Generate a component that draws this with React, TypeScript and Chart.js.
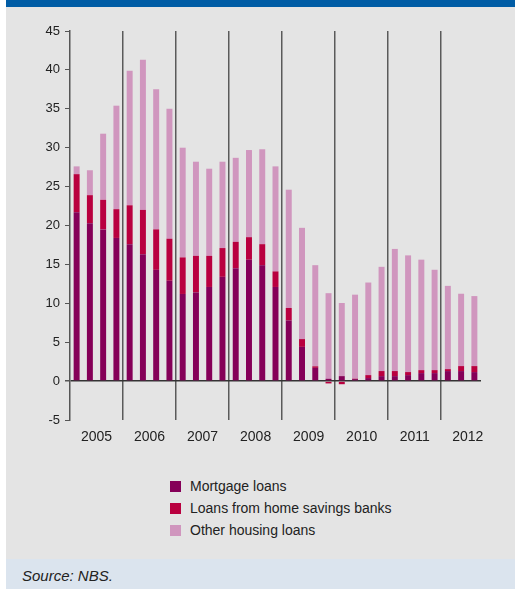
import React, { useEffect, useRef } from "react";
import { Chart, registerables } from "chart.js";

Chart.register(...registerables);

const quarters = [
  "2005Q1","2005Q2","2005Q3","2005Q4",
  "2006Q1","2006Q2","2006Q3","2006Q4",
  "2007Q1","2007Q2","2007Q3","2007Q4",
  "2008Q1","2008Q2","2008Q3","2008Q4",
  "2009Q1","2009Q2","2009Q3","2009Q4",
  "2010Q1","2010Q2","2010Q3","2010Q4",
  "2011Q1","2011Q2","2011Q3","2011Q4",
  "2012Q1","2012Q2","2012Q3",
];

const yearLabels = ["2005","2006","2007","2008","2009","2010","2011","2012"];
const yearLabelPositions = [2, 6, 10, 14, 18, 22, 26, 30];

const mortgageLoans = [
  21.7, 20.3, 19.5, 18.4,
  17.6, 16.3, 14.3, 12.9,
  11.2, 11.4, 12.1, 13.4,
  14.5, 15.6, 14.9, 12.1,
  7.8, 4.4, 1.7, 0.3,
  0.64, 0.26, 0.39, 0.64,
  0.64, 0.77, 1.03, 1.03,
  1.29, 1.29, 1.16,
];

const homeSavingsLoans = [
  4.9, 3.6, 3.8, 3.7,
  5.0, 5.7, 5.2, 5.4,
  4.7, 4.7, 4.0, 3.7,
  3.4, 2.9, 2.7, 2.0,
  1.6, 1.0, 0.2, -0.3,
  -0.4, 0.05, 0.38, 0.65,
  0.65, 0.39, 0.38, 0.38,
  0.25, 0.64, 0.77,
];

const otherHousingLoans = [
  1.0, 3.2, 8.5, 13.3,
  17.3, 19.3, 18.0, 16.7,
  14.1, 12.1, 11.2, 11.1,
  10.8, 11.2, 12.2, 13.5,
  15.2, 14.3, 13.0, 11.0,
  9.4, 10.8, 11.9, 13.4,
  15.7, 15.0, 14.2, 12.9,
  10.7, 9.3, 9.0,
];

const seriesNames = ["Mortgage loans", "Loans from home savings banks", "Other housing loans"];
const seriesColors = ["#850058", "#b9003f", "#d096be"];

const FONT = "'Liberation Sans', Arial, sans-serif";

function ChartCanvas() {
  const ref = useRef<HTMLCanvasElement | null>(null);
  useEffect(() => {
    if (!ref.current) return;
    const chart = new Chart(ref.current, {
      type: "bar",
      data: {
        labels: quarters,
        datasets: [
          { label: seriesNames[0], data: mortgageLoans, backgroundColor: seriesColors[0] },
          { label: seriesNames[1], data: homeSavingsLoans, backgroundColor: seriesColors[1] },
          { label: seriesNames[2], data: otherHousingLoans, backgroundColor: seriesColors[2] },
        ].map((d) => ({ ...d, borderWidth: 0, barPercentage: 0.45, categoryPercentage: 1 })),
      },
      options: {
        responsive: false,
        animation: false,
        devicePixelRatio: 1,
        layout: { padding: { top: 24, right: 34, left: 0, bottom: 0 } },
        plugins: { legend: { display: false }, tooltip: { enabled: false } },
        scales: {
          x: {
            type: "category",
            stacked: true,
            offset: true,
            border: { display: false },
            ticks: { display: false },
            grid: {
              offset: true,
              drawTicks: false,
              lineWidth: 1.5,
              color: (ctx: any) =>
                ctx.index > 0 && ctx.index < quarters.length && ctx.index % 4 === 0 ? "#5a5a5a" : "rgba(0,0,0,0)",
            },
            afterFit: (axis: any) => {
              axis.height = 0;
            },
          },
          x2: {
            type: "linear",
            position: "bottom",
            min: 0,
            max: quarters.length,
            offset: false,
            border: { display: false },
            grid: { display: false, drawTicks: false },
            afterBuildTicks: (axis: any) => {
              axis.ticks = yearLabelPositions.map((v) => ({ value: v }));
            },
            ticks: {
              autoSkip: false,
              maxRotation: 0,
              padding: 9,
              color: "#222",
              font: { family: FONT, size: 14 },
              callback: (_v: any, i: number) => yearLabels[i],
            },
            afterFit: (axis: any) => {
              axis.height = 30;
            },
          },
          y: {
            stacked: true,
            min: -5,
            max: 45,
            z: 1,
            border: { display: true, color: "#555", width: 1.5 },
            grid: {
              drawTicks: true,
              tickLength: 5,
              tickColor: "#555",
              lineWidth: (ctx: any) => (ctx.tick && ctx.tick.value === 0 ? 1.5 : 1),
              color: (ctx: any) => (ctx.tick && ctx.tick.value === 0 ? "#333" : "rgba(0,0,0,0)"),
            },
            ticks: {
              stepSize: 5,
              padding: 5,
              color: "#222",
              font: { family: FONT, size: 13 },
            },
            afterFit: (axis: any) => {
              axis.width = 64;
            },
          },
        },
      },
    });
    return () => chart.destroy();
  }, []);
  return <canvas ref={ref} width={509} height={443} style={{ display: "block" }} />;
}

export default function App() {
  useEffect(() => {
    document.body.style.margin = "0";
  }, []);
  return (
    <div style={{ position: "relative", width: 515, height: 589, background: "#fff", overflow: "hidden", fontFamily: FONT }}>
      <div style={{ position: "absolute", left: 6, top: 0, width: 509, height: 559, background: "#e4e4e4" }} />
      <div style={{ position: "absolute", left: 6, top: 0, width: 509, height: 7, background: "#005ca5" }} />
      <div style={{ position: "absolute", left: 6, top: 7 }}>
        <ChartCanvas />
      </div>
      {seriesNames.map((name, i) => (
        <div
          key={name}
          style={{ position: "absolute", left: 170, top: 478 + i * 22, height: 16, display: "flex", alignItems: "center" }}
        >
          <div style={{ width: 11, height: 11, background: seriesColors[i], marginRight: 9 }} />
          <span style={{ fontSize: 14, color: "#222", lineHeight: "16px" }}>{name}</span>
        </div>
      ))}
      <div style={{ position: "absolute", left: 6, top: 559, width: 509, height: 30, background: "#dbe4ee" }} />
      <div
        style={{ position: "absolute", left: 22, top: 567, fontSize: 15, fontStyle: "italic", color: "#222", lineHeight: "18px" }}
      >
        Source: NBS.
      </div>
    </div>
  );
}
